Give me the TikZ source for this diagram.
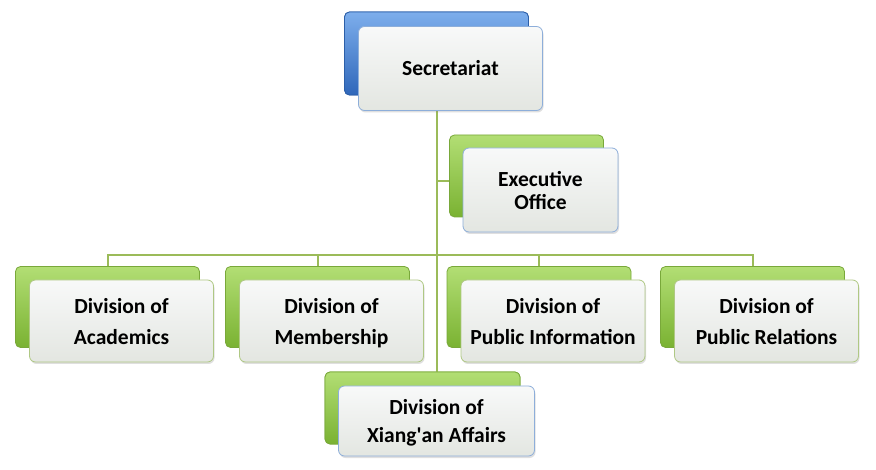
\documentclass[tikz,border=0pt]{standalone}
\usepackage{fontspec}
\setmainfont{Carlito}
\usetikzlibrary{calc}
\usetikzlibrary{shadows}
\usetikzlibrary{positioning}

\definecolor{greentop}{HTML}{B2DE74}
\definecolor{greenbot}{HTML}{7AB232}
\definecolor{greenedge}{HTML}{79A83A}
\definecolor{bluetop}{HTML}{7DAEEC}
\definecolor{bluebot}{HTML}{2F67BA}
\definecolor{blueedge}{HTML}{2C5FA8}
\definecolor{fronttop}{HTML}{F8F9F9}
\definecolor{frontbot}{HTML}{E3E6E1}
\definecolor{frontgreen}{HTML}{AFC884}
\definecolor{frontblue}{HTML}{8DAEDA}
\definecolor{linegreen}{HTML}{9BBB59}

\newcommand{\topgap}{\rule{0pt}{23pt}}

\begin{document}
\begin{tikzpicture}[x=1pt,y=-1pt]
	\useasboundingbox[fill=white] (0,0) rectangle (876,470);
	% back boxes
	\begin{scope}[every node/.style={draw=greenedge, line width=0.8pt, rounded corners=5pt,
	              top color=greentop, bottom color=greenbot,
	              minimum width=184pt, minimum height=81pt, inner sep=0pt}]
		\node[top color=bluetop, bottom color=bluebot, draw=blueedge, minimum height=83pt] (sec-b) at (436.5,53.5) {};
		\node[minimum width=154pt, minimum height=82pt] (exe-b) at (526.5,176) {};
		\node (aca-b) at (107.5,307) {};
		\node (mem-b) at (317.5,307) {};
		\node (pin-b) at (539,307) {};
		\node (pre-b) at (752.5,307) {};
		\node[minimum width=195pt, minimum height=72pt] (xia-b) at (422.5,408) {};
	\end{scope}
	% connectors
	\coordinate (bus) at (436.5,255);
	\begin{scope}[draw=linegreen, line width=2pt]
		\draw (sec-b.south) -- (sec-b.south |- xia-b.north);
		\draw (sec-b.south |- 0,181) -- (exe-b.west |- 0,181);
		\draw (aca-b.north) -- (aca-b.north |- bus) -- (pre-b.north |- bus) -- (pre-b.north);
		\draw (mem-b.north) -- (mem-b.north |- bus);
		\draw (pin-b.north) -- (pin-b.north |- bus);
	\end{scope}
	% back boxes again over the lines
	\begin{scope}[every node/.style={draw=greenedge, line width=0.8pt, rounded corners=5pt,
	              top color=greentop, bottom color=greenbot,
	              minimum width=184pt, minimum height=81pt, inner sep=0pt}]
		\node[top color=bluetop, bottom color=bluebot, draw=blueedge, minimum height=83pt] at (sec-b) {};
		\node[minimum width=195pt, minimum height=72pt] at (xia-b) {};
	\end{scope}
	% front boxes
	\begin{scope}[every node/.style={draw=frontgreen, line width=0.8pt, rounded corners=6pt,
	              top color=fronttop, bottom color=frontbot,
	              drop shadow={opacity=0.25, shadow xshift=1pt, shadow yshift=-2pt},
	              minimum width=184pt, minimum height=82pt, inner sep=2pt, align=center,
	              font=\fontsize{21.5}{25}\selectfont\bfseries}]
		\node[draw=frontblue, minimum height=84pt] (sec) at ([shift={(14,15)}]sec-b) {Secretariat};
		\node[draw=frontblue, minimum width=155pt, minimum height=84pt] (exe) at ([shift={(14,14)}]exe-b) {\topgap Executive\\[-2pt]Office\strut};
		\node (aca) at ([shift={(14,14)}]aca-b) {\topgap Division of\\[6pt]Academics\strut};
		\node (mem) at ([shift={(14,14)}]mem-b) {\topgap Division of\\[6pt]Membership\strut};
		\node (pin) at ([shift={(14,14)}]pin-b) {\topgap Division of\\[6pt]Public Information\strut};
		\node (pre) at ([shift={(14,14)}]pre-b) {\topgap Division of\\[6pt]Public Relations\strut};
		\node[draw=frontblue, minimum width=196pt, minimum height=70pt] (xia) at ([shift={(14,13)}]xia-b) {\topgap Division of\\[3pt]Xiang\textquotesingle an Affairs\strut};
	\end{scope}
\end{tikzpicture}
\end{document}
